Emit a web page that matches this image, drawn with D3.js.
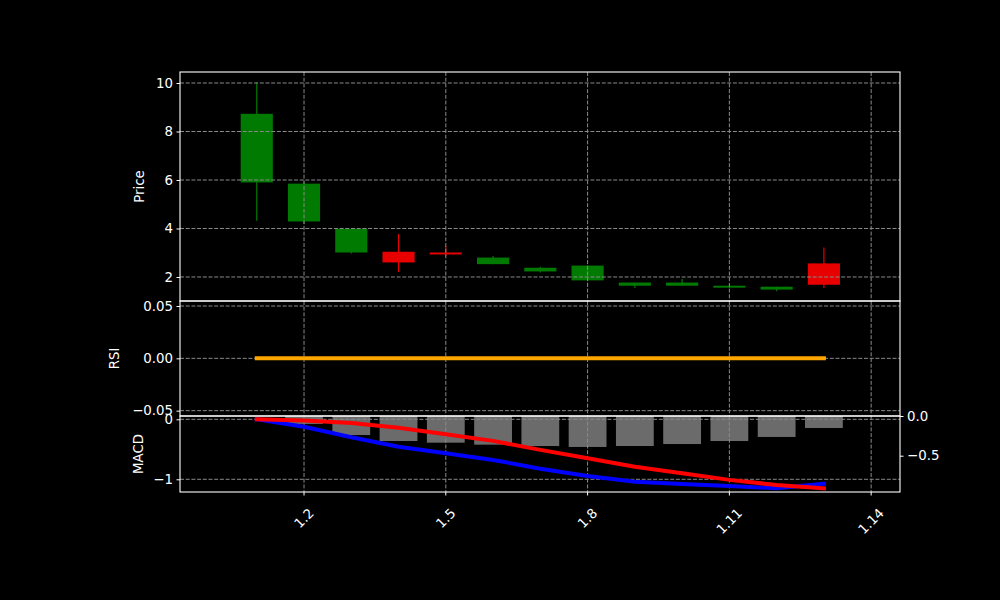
<!DOCTYPE html>
<html>
<head>
<meta charset="utf-8">
<script src="https://cdn.jsdelivr.net/npm/d3@7"></script>
<style>
  html, body { margin: 0; padding: 0; background: #000; }
  svg { display: block; }
  text { font-family: "DejaVu Sans", sans-serif; font-size: 13.33px; fill: #fff; }
</style>
</head>
<body>
<svg id="chart" width="1000" height="600"></svg>
<script>
// ---------- data ----------
const days   = [1, 2, 3, 4, 5, 6, 7, 8, 9, 10, 11, 12, 13];
const open   = [5.90, 4.29, 3.01, 3.04, 3.01, 2.53, 2.23, 1.86, 1.64, 1.64, 1.56, 1.48, 2.56];
const high   = [10.03, 5.94, 3.99, 3.77, 3.29, 2.87, 2.42, 2.47, 1.77, 1.92, 1.66, 1.60, 3.22];
const low    = [4.32, 4.19, 2.97, 2.21, 2.85, 2.53, 2.19, 1.86, 1.55, 1.64, 1.55, 1.41, 1.55];
const close  = [8.73, 5.85, 3.99, 2.60, 2.93, 2.80, 2.38, 2.47, 1.77, 1.77, 1.64, 1.60, 1.68];
const rsi    = [0, 0, 0, 0, 0, 0, 0, 0, 0, 0, 0, 0, 0];
const macd   = [0, -0.123, -0.30, -0.457, -0.567, -0.678, -0.823, -0.945, -1.04, -1.078, -1.11, -1.15, -1.073];
const signal = [0, -0.02, -0.06, -0.14, -0.25, -0.36, -0.51, -0.65, -0.79, -0.90, -1.01, -1.095, -1.15];
const hist   = [0, -0.10, -0.24, -0.315, -0.336, -0.361, -0.378, -0.39, -0.378, -0.353, -0.315, -0.264, -0.151];
const xTickDays   = [2, 5, 8, 11, 14];
const xTickLabels = ["1.2", "1.5", "1.8", "1.11", "1.14"];
const priceTicks  = [2, 4, 6, 8, 10];
const rsiTicks    = [0.05, 0, -0.05];
const macdTicks   = [0, -1];
const histTicks   = [0, -0.5];

// ---------- layout ----------
const L = 180, R = 900;
const P = { top: 72, bottom: 301 };
const S = { top: 301, bottom: 416 };
const M = { top: 416, bottom: 492 };
const gridColor = "#8a8a8a";
const minus = s => s.replace(/-/g, "\u2212");

const svg = d3.select("#chart");
svg.append("rect").attr("width", 1000).attr("height", 600).attr("fill", "#000");

const x = d3.scaleLinear().domain([-0.624, 14.61]).range([L, R]);
const yP = d3.scaleLinear().domain([1.01, 10.454]).range([P.bottom, P.top]);
const yR = d3.scaleLinear().domain([-0.0551, 0.0548]).range([S.bottom, S.top]);
const yM = d3.scaleLinear().domain([-1.212, 0.055]).range([M.bottom, M.top]);
const yH = d3.scaleLinear().domain([-0.957, 0]).range([M.bottom, M.top]);

const green = "#007a00", red = "#e80000";
const pxDay = x(1) - x(0);

function grid(g, yScale, ticks, top, bottom) {
  g.selectAll(null).data(ticks).enter().append("line")
    .attr("x1", L).attr("x2", R)
    .attr("y1", d => yScale(d)).attr("y2", d => yScale(d))
    .attr("stroke", gridColor).attr("stroke-width", 1).attr("stroke-dasharray", "4,1.7");
  g.selectAll(null).data(xTickDays).enter().append("line")
    .attr("x1", d => x(d)).attr("x2", d => x(d))
    .attr("y1", top).attr("y2", bottom)
    .attr("stroke", gridColor).attr("stroke-width", 1).attr("stroke-dasharray", "4,1.7");
}

function leftAxis(yScale, ticks, fmt) {
  const ax = d3.axisLeft(yScale).tickValues(ticks).tickSize(3.5).tickPadding(3.5).tickFormat(d => minus(fmt(d)));
  const g = svg.append("g").attr("transform", `translate(${L},0)`).call(ax);
  g.select(".domain").remove();
  g.selectAll(".tick line").attr("stroke", "#fff");
  g.selectAll(".tick text").attr("fill", "#fff").style("font-size", "13.33px").style("font-family", "DejaVu Sans");
  return g;
}

function frame(top, bottom) {
  svg.append("rect").attr("x", L).attr("y", top).attr("width", R - L).attr("height", bottom - top)
    .attr("fill", "none").attr("stroke", "#fff").attr("stroke-width", 1.1);
}

// ---------- Price panel ----------
const gP = svg.append("g");
days.forEach((d, i) => {
  const c = close[i] >= open[i] ? green : red;
  gP.append("line").attr("x1", x(d)).attr("x2", x(d))
    .attr("y1", yP(high[i])).attr("y2", yP(low[i]))
    .attr("stroke", c).attr("stroke-width", 1.2);
  const top = yP(Math.max(open[i], close[i])), bot = yP(Math.min(open[i], close[i]));
  gP.append("rect").attr("x", x(d - 0.34)).attr("width", 0.68 * pxDay)
    .attr("y", top).attr("height", Math.max(1.5, bot - top)).attr("fill", c);
});
grid(svg.append("g"), yP, priceTicks, P.top, P.bottom);

// ---------- RSI panel ----------
grid(svg.append("g"), yR, rsiTicks, S.top, S.bottom);
svg.append("path").datum(days.map((d, i) => [d, rsi[i]]))
  .attr("d", d3.line().x(d => x(d[0])).y(d => yR(d[1])))
  .attr("fill", "none").attr("stroke", "#ffa500").attr("stroke-width", 4).attr("stroke-linecap", "square");

// ---------- MACD panel ----------
svg.append("g").selectAll("rect").data(days.map((d, i) => [d, hist[i]])).enter().append("rect")
  .attr("x", d => x(d[0] - 0.4)).attr("width", 0.8 * pxDay)
  .attr("y", d => yH(Math.max(0, d[1])))
  .attr("height", d => Math.abs(yH(d[1]) - yH(0)))
  .attr("fill", "#6b6b6b");
grid(svg.append("g"), yM, macdTicks, M.top, M.bottom);
const lineM = d3.line().x(d => x(d[0])).y(d => yM(d[1]));
svg.append("path").datum(days.map((d, i) => [d, macd[i]]))
  .attr("d", lineM).attr("fill", "none").attr("stroke", "#0000ff").attr("stroke-width", 4).attr("stroke-linecap", "square");
svg.append("path").datum(days.map((d, i) => [d, signal[i]]))
  .attr("d", lineM).attr("fill", "none").attr("stroke", "#ff0000").attr("stroke-width", 4).attr("stroke-linecap", "square");

// ---------- frames & axes ----------
frame(P.top, P.bottom);
frame(S.top, S.bottom);
frame(M.top, M.bottom);

leftAxis(yP, priceTicks, d3.format("d"));
leftAxis(yR, rsiTicks, d3.format(".2f"));
leftAxis(yM, macdTicks, d3.format("d"));

const axR = d3.axisRight(yH).tickValues(histTicks).tickSize(3.5).tickPadding(3.5).tickFormat(d => minus(d3.format(".1f")(d)));
const gRight = svg.append("g").attr("transform", `translate(${R},0)`).call(axR);
gRight.select(".domain").remove();
gRight.selectAll(".tick line").attr("stroke", "#fff");
gRight.selectAll(".tick text").attr("fill", "#fff").style("font-size", "13.33px").style("font-family", "DejaVu Sans");

// bottom x axis
const gx = svg.append("g");
xTickDays.forEach((d, i) => {
  gx.append("line").attr("x1", x(d)).attr("x2", x(d)).attr("y1", M.bottom).attr("y2", M.bottom + 3.5).attr("stroke", "#fff");
  const t = gx.append("text").text(xTickLabels[i]).attr("text-anchor", "middle").attr("dominant-baseline", "central");
  const w = t.node().getComputedTextLength();
  const h = 13.33;
  const cy = M.bottom + 14 + (w + h) * 0.7071 / 2;
  t.attr("x", x(d)).attr("y", cy).attr("transform", `rotate(-45,${x(d)},${cy})`);
});

// y labels
function ylabel(txt, cx, cy) {
  svg.append("text").text(txt).attr("text-anchor", "middle").attr("dominant-baseline", "central")
    .attr("transform", `translate(${cx},${cy}) rotate(-90)`);
}
ylabel("Price", 139, (P.top + P.bottom) / 2);
ylabel("RSI", 114, (S.top + S.bottom) / 2);
ylabel("MACD", 138, (M.top + M.bottom) / 2);
</script>
</body>
</html>
